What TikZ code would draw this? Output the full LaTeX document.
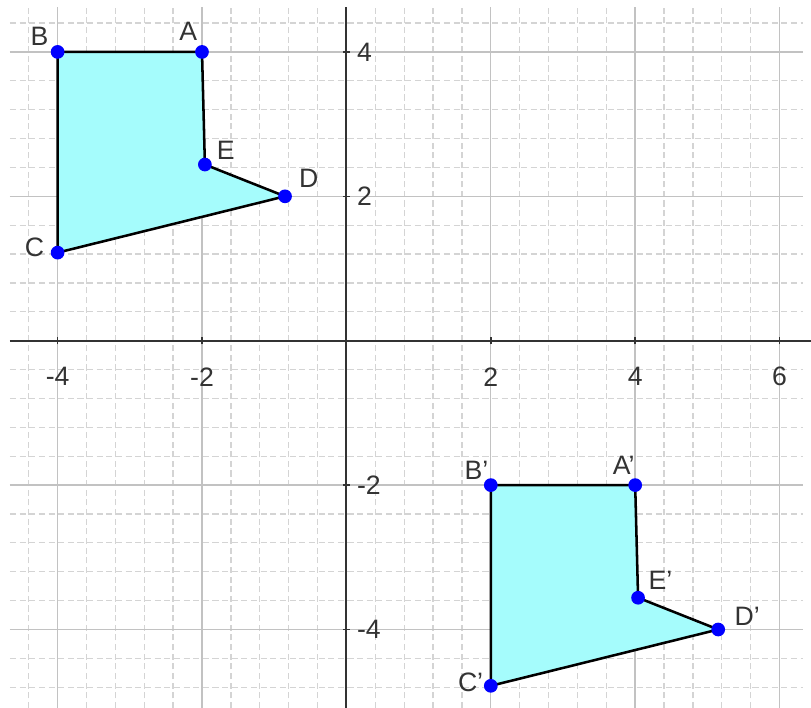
\documentclass[tikz,border=0pt]{standalone}
\usepackage{fontspec}
\setmainfont{Liberation Sans}
\usetikzlibrary{calc}
\definecolor{shapefill}{RGB}{165,252,252}
\definecolor{ptblue}{RGB}{0,0,255}
\tikzset{
  gmin/.style={draw=black!17, line width=0.5pt, dash pattern=on 2.4pt off 1.4pt},
  gmaj/.style={draw=black!24, line width=0.55pt},
  ax/.style={draw=black!80, line width=0.8pt},
  tk/.style={draw=black!80, line width=0.6pt},
  tkx/.style={font=\fontsize{10.5}{12}\selectfont, text=black!80, inner sep=0pt},
  tky/.style={tkx, anchor=west},
  fig/.style={draw=black, line width=1pt, fill=shapefill, line join=miter},
  pt/.style={circle, fill=ptblue, inner sep=0pt, minimum size=0.19cm},
  ptl/.style={font=\fontsize{10.5}{12}\selectfont, text=black!80, inner sep=0pt},
}

\begin{document}
\begin{tikzpicture}[x=1cm,y=1cm]

\useasboundingbox (-4.798,-5.087) rectangle (6.435,4.719);

% ===================== GRID =====================
\draw[gmin] (-4.66,-5.087) grid[step=0.4] (6.32,4.62);
\draw[gmaj] (-4.66,-5.087) grid[step=2] (6.32,4.62);

% ===================== AXES =====================
\draw[ax] (-4.66,0) -- (6.435,0);
\draw[ax] (0,-5.087) -- (0,4.62);

\foreach \x in {-4,-2,2,4,6} {
  \draw[tk] (\x,-0.05) -- (\x,0.05);
  \node[tkx] (tx\x) at (\x,-0.5) {\x};
}
\foreach \y in {-4,-2,2,4} {
  \draw[tk] (-0.05,\y) -- (0.05,\y);
  \node[tky] (ty\y) at (0.14,\y) {\y};
}

% ===================== ABCDE =====================
\coordinate (A) at (-2,4);
\coordinate (B) at (-4,4);
\coordinate (C) at (-4,1.22);
\coordinate (D) at (-0.85,2);
\coordinate (E) at (-1.96,2.44);

% image, moved by (6,-6)
\coordinate (Ap) at ($(A)+(6,-6)$);
\coordinate (Bp) at ($(B)+(6,-6)$);
\coordinate (Cp) at ($(C)+(6,-6)$);
\coordinate (Dp) at ($(D)+(6,-6)$);
\coordinate (Ep) at ($(E)+(6,-6)$);

\draw[fig] (A) -- (B) -- (C) -- (D) -- (E) -- cycle;
\draw[fig] (Ap) -- (Bp) -- (Cp) -- (Dp) -- (Ep) -- cycle;

\foreach \p in {A,B,C,D,E,Ap,Bp,Cp,Dp,Ep}
  \node[pt] (pt\p) at (\p) {};

% ===================== LABELS =====================
\node[ptl] (lA) at ($(A)+(-0.19,0.28)$) {A};
\node[ptl] (lB) at ($(B)+(-0.25,0.22)$) {B};
\node[ptl] (lC) at ($(C)+(-0.32,0.08)$) {C};
\node[ptl] (lD) at ($(D)+(0.33,0.245)$) {D};
\node[ptl] (lE) at ($(E)+(0.29,0.20)$) {E};

\node[ptl] (lAp) at ($(Ap)+(-0.16,0.27)$) {A'};
\node[ptl] (lBp) at ($(Bp)+(-0.20,0.21)$) {B'};
\node[ptl] (lCp) at ($(Cp)+(-0.28,0.055)$) {C'};
\node[ptl] (lDp) at ($(Dp)+(0.40,0.18)$) {D'};
\node[ptl] (lEp) at ($(Ep)+(0.31,0.24)$) {E'};

\end{tikzpicture}
\end{document}
